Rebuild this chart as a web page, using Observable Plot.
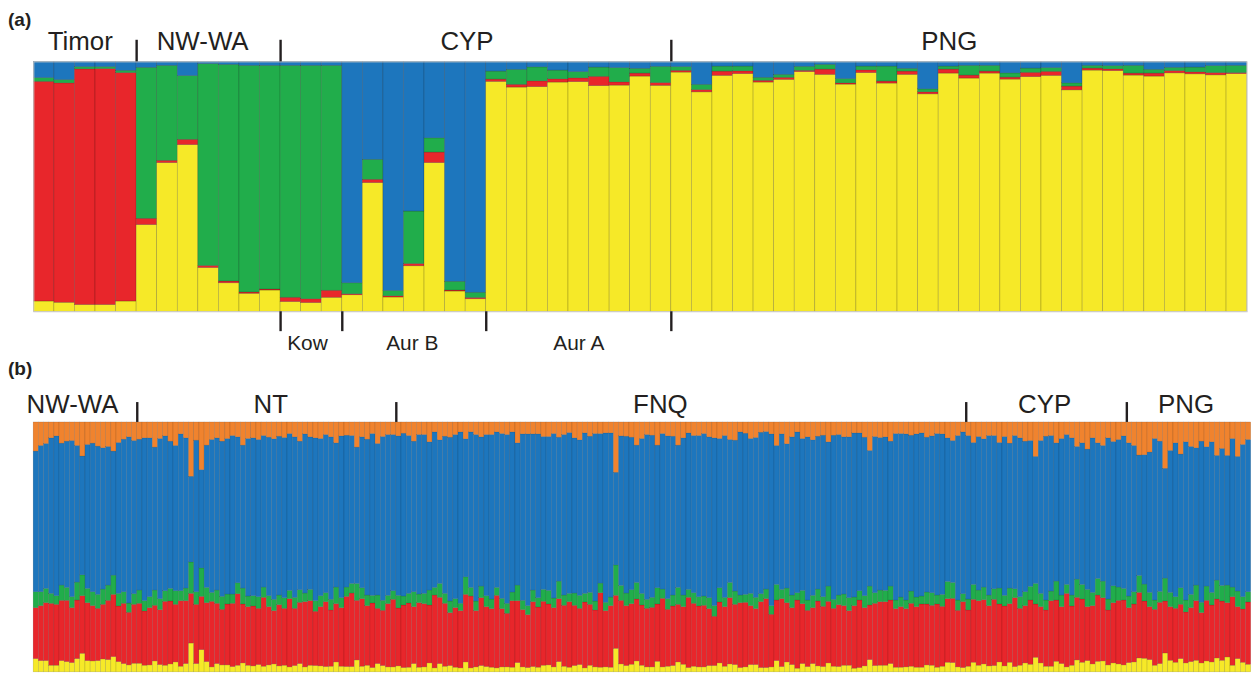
<!DOCTYPE html>
<html><head><meta charset="utf-8">
<script src="https://cdn.jsdelivr.net/npm/d3@7"></script>
<script src="https://cdn.jsdelivr.net/npm/@observablehq/plot@0.6"></script>
<style>
html,body{margin:0;padding:0;background:#fff;overflow:hidden;width:1253px;height:674px}
#wrap{position:relative;width:1253px;height:674px;overflow:hidden;font-family:"Liberation Sans",Arial,Helvetica,sans-serif;color:#231f20}
.plab{position:absolute;left:8px;font-weight:bold;font-size:19px;line-height:1}
#pa{position:absolute;left:0;top:0}
#pb{position:absolute;left:0;top:360px}
svg{display:block;overflow:visible}
</style></head><body>
<div id="wrap">
<div class="plab" style="top:10px">(a)</div>
<div class="plab" style="top:359px">(b)</div>
<div id="pa"></div><div id="pb"></div>
</div>
<script>
// ---------------- DATA: panel (a) ----------------
const popsA = ["Timor","NW-WA","Kow","Aur B","Aur A","PNG"];
const popSizesA = [5,7,3,7,9,28];
const regionOfPopA = ["Timor","NW-WA","CYP","CYP","CYP","PNG"];
const subLabelRegionA = "CYP";
const clustersA = ["Cluster Y","Cluster R","Cluster G","Cluster B"];
const yellowA = [0.041,0.036,0.027,0.027,0.041,0.347,0.595,0.667,0.175,0.114,0.072,0.085,0.039,0.035,0.056,0.066,0.515,0.057,0.182,0.595,0.081,0.050,0.920,0.898,0.899,0.918,0.919,0.903,0.904,0.942,0.904,0.957,0.878,0.944,0.952,0.918,0.928,0.959,0.948,0.908,0.956,0.914,0.948,0.870,0.954,0.934,0.954,0.928,0.939,0.944,0.886,0.965,0.963,0.946,0.942,0.954,0.951,0.946,0.951];
const redA = [0.879,0.878,0.943,0.944,0.914,0.025,0.009,0.021,0.008,0.007,0.005,0.004,0.017,0.015,0.028,0.004,0.013,0.005,0.009,0.042,0.004,0.005,0.009,0.011,0.023,0.013,0.015,0.037,0.013,0.012,0.011,0.007,0.009,0.017,0.011,0.007,0.008,0.005,0.021,0.005,0.011,0.008,0.013,0.008,0.016,0.012,0.008,0.008,0.017,0.016,0.015,0.008,0.007,0.008,0.012,0.009,0.008,0.009,0.004];
const greenA = [0.015,0.013,0.009,0.008,0.009,0.604,0.380,0.255,0.807,0.867,0.907,0.895,0.928,0.934,0.900,0.044,0.080,0.021,0.210,0.057,0.035,0.021,0.032,0.060,0.056,0.035,0.025,0.037,0.057,0.019,0.065,0.015,0.021,0.020,0.019,0.012,0.012,0.016,0.019,0.017,0.015,0.060,0.011,0.012,0.012,0.039,0.023,0.017,0.017,0.015,0.013,0.011,0.013,0.031,0.015,0.013,0.019,0.028,0.029];
const blueA = [0.065,0.073,0.021,0.021,0.036,0.024,0.016,0.057,0.009,0.012,0.016,0.016,0.016,0.016,0.016,0.886,0.392,0.917,0.599,0.306,0.880,0.924,0.039,0.032,0.022,0.035,0.041,0.023,0.025,0.028,0.020,0.021,0.092,0.019,0.019,0.064,0.052,0.020,0.012,0.069,0.019,0.019,0.028,0.110,0.019,0.016,0.016,0.046,0.027,0.025,0.086,0.016,0.017,0.016,0.032,0.024,0.023,0.017,0.016];

// ---------------- DATA: panel (b) (relative shares) ----------------
const regionsB = ["NW-WA","NT","FNQ","CYP","PNG"];
const regionSizesB = [20,50,110,31,24];
const clustersB = ["Cluster Y","Cluster R","Cluster G","Cluster B","Cluster O"];
const orangeB = [88,71,65,48,42,64,58,56,71,103,68,64,73,78,74,88,62,52,45,56,
52,48,48,76,50,42,58,71,36,48,164,55,144,70,53,48,58,50,41,
45,70,50,48,53,41,46,51,43,47,35,45,58,36,45,48,50,38,45,63,42,40,41,76,45,52,35,65,44,38,38,42,34,41,58,38,38,60,30,
54,43,46,38,30,51,30,38,45,38,38,30,35,38,30,63,36,36,36,36,44,44,35,46,38,32,48,54,33,43,35,35,33,33,152,42,43,46,70,
50,38,40,70,35,42,43,70,48,33,41,41,35,45,48,50,41,53,55,30,34,50,47,31,29,36,71,36,66,45,30,50,45,54,43,40,60,40,38,
45,45,33,33,46,86,44,47,45,58,35,35,36,40,36,33,46,42,35,36,48,56,41,30,41,62,44,51,41,41,62,44,64,41,48,58,56,104,56,
43,41,63,50,38,48,74,63,82,48,63,71,48,59,53,42,63,71,100,99,91,50,58,140,86,63,97,60,74,78,58,75,60,101,80,101,50,104,68,53];
const blueB = [425,442,438,470,483,429,442,472,413,359,435,449,448,427,419,375,456,461,502,463,
456,492,480,432,484,468,445,439,474,454,259,458,297,430,462,460,469,470,479,
441,432,476,477,475,458,479,485,480,484,474,485,449,481,461,492,475,478,491,436,489,459,447,412,456,471,489,458,495,486,472,482,492,477,455,482,480,448,470,
434,475,495,496,518,417,470,503,451,487,497,470,498,510,484,430,503,519,472,495,462,465,497,435,485,486,469,470,485,472,506,452,512,496,280,452,474,461,415,
468,498,490,431,470,492,480,430,475,473,475,487,491,486,507,451,489,432,456,493,487,468,483,488,476,519,420,470,436,478,486,459,493,470,462,488,436,496,485,
475,486,496,477,479,410,472,461,464,438,503,494,502,471,493,493,468,474,488,485,434,429,497,489,494,429,464,448,482,463,440,480,438,463,480,455,441,384,462,
495,470,418,473,453,475,401,428,424,467,410,410,487,436,446,461,463,442,364,391,424,488,454,332,429,465,404,478,447,415,487,421,455,377,414,392,449,407,460,460];
const greenB = [48,42,43,30,26,46,39,33,54,63,43,42,42,46,46,58,38,35,28,32,
40,31,33,46,33,32,38,41,30,38,95,38,86,46,27,40,39,30,28,
33,48,32,31,35,31,33,34,29,32,25,33,38,26,34,32,33,27,32,50,30,28,29,51,33,32,23,40,30,25,26,38,27,29,45,26,31,45,23,
42,30,35,27,22,53,26,29,35,33,29,24,31,30,26,47,28,27,35,28,36,41,29,53,31,25,37,39,26,36,27,29,25,26,92,45,38,42,50,
35,27,30,49,28,32,33,51,35,24,32,28,28,33,32,43,28,46,40,23,24,37,34,24,29,26,47,28,44,38,22,40,31,37,36,29,46,27,29,
35,39,26,28,36,57,32,35,34,42,26,29,26,37,29,24,36,38,27,36,52,48,31,24,33,45,32,38,32,32,48,32,47,27,35,42,41,62,40,
30,29,57,35,27,33,55,44,52,40,50,50,33,51,40,35,35,37,51,51,43,28,33,69,43,35,50,36,40,47,31,43,38,57,47,53,29,47,37,31];
const redB = [154,166,175,187,184,182,185,166,177,174,175,167,158,165,179,188,168,182,159,178,
181,164,173,168,166,193,190,174,198,190,150,179,161,178,198,182,168,184,191,
216,178,177,181,170,208,176,161,185,172,206,173,185,197,195,164,179,196,170,176,177,212,222,180,204,180,195,167,167,191,204,175,189,194,172,195,191,175,220,
200,190,160,180,173,204,217,170,205,181,177,219,176,162,201,187,173,160,196,182,193,184,179,190,184,198,182,170,199,184,172,225,170,186,160,192,181,183,187,
182,177,180,173,207,172,180,174,174,212,190,184,186,172,149,184,180,200,182,196,195,178,169,199,208,159,183,205,179,172,206,181,170,169,196,182,186,175,187,
180,165,189,204,176,165,188,192,192,192,177,183,176,190,183,191,184,181,191,181,192,194,171,199,170,190,195,194,182,200,175,181,177,208,172,173,194,161,170,
170,198,185,172,222,179,189,191,163,176,200,191,166,182,192,196,166,175,198,173,160,169,185,157,162,163,164,154,163,180,152,183,172,178,179,164,207,157,161,188];
const yellowB = [40,34,34,20,20,34,31,28,40,56,34,33,34,39,37,46,31,25,21,26,
26,20,21,33,22,20,24,30,17,25,87,25,67,31,15,25,21,21,16,
20,27,20,18,22,17,21,24,18,20,15,19,25,15,20,19,18,16,17,30,17,16,16,36,17,20,13,25,19,15,15,18,13,14,25,14,15,27,12,
25,17,19,14,12,30,12,15,19,16,14,12,15,15,14,28,15,13,16,14,20,21,15,31,17,14,19,22,12,20,15,14,15,14,71,24,19,23,33,
20,15,15,32,15,17,19,30,23,13,17,15,15,19,19,27,17,24,22,13,15,22,22,13,13,15,34,16,30,22,11,25,16,25,18,16,27,17,16,
20,20,11,13,18,37,19,20,20,25,14,14,15,17,14,14,21,20,14,17,29,28,15,13,17,29,20,24,18,19,30,18,29,16,20,27,23,44,27,
17,17,32,25,15,20,36,29,34,24,32,33,21,27,24,21,28,30,42,41,37,20,25,57,35,29,40,27,31,35,27,33,30,42,35,45,20,40,29,23];

// ---------------- STYLE ----------------
const clusterColors = {"Cluster Y":"#f6e928", "Cluster R":"#e8262b", "Cluster G":"#21ad4b", "Cluster B":"#1d76bd", "Cluster O":"#f0832e"};
const FONT = "'Liberation Sans', Arial, Helvetica, sans-serif";
const INK = "#231f20";
const W = 1260;
const A = {top:61.7, plotH:251.3, left:33.5, right:1253.6, svgH:360, tickLen:21.7, labelDy:-11.7, subTickLen:20, subLabelDy:38.7};
const B = {top:62.3, plotH:251.3, left:33.3, right:1257.7, svgH:324, tickLen:20, labelDy:-9.3};
const nudgeTopA = {"Timor":-5,"NW-WA":-6,"CYP":-9,"PNG":-10};
const nudgeSubA = {"Kow":-4,"Aur B":-2,"Aur A":0};
const nudgeB = {"NW-WA":-13,"NT":4,"FNQ":-21,"CYP":-2,"PNG":-3};

// ---------------- helpers ----------------
function stackRows(series, names) {
  const n = series[0].length, rows = [];
  for (let i = 0; i < n; i++) {
    const tot = d3.sum(series, s => s[i]);
    let acc = 0;
    series.forEach((s, k) => {
      const v = s[i] / tot;
      rows.push({i, k: names[k], y1: acc, y2: acc + v});
      acc += v;
    });
  }
  return rows;
}
function spans(names, sizes) {
  const out = []; let s = 0;
  names.forEach((nm, j) => { out.push({name: nm, start: s, end: s + sizes[j]}); s += sizes[j]; });
  return out;
}
function mergeSpans(sp, keyOf) {
  const out = [];
  sp.forEach((d, j) => {
    const key = keyOf[j];
    const last = out[out.length - 1];
    if (last && last.name === key) last.end = d.end; else out.push({name: key, start: d.start, end: d.end});
  });
  return out;
}
function labelMarks(list, nudge, frameAnchor, dy, size) {
  return list.map(d => Plot.text([d], {
    x: e => (e.start + e.end) / 2, text: "name", frameAnchor, dy, dx: nudge[d.name] || 0,
    lineAnchor: "bottom", textAnchor: "middle", fontSize: size, fill: INK, fontFamily: FONT
  }));
}
const colorScale = {type: "ordinal", domain: Object.keys(clusterColors), range: Object.values(clusterColors)};

// ---------------- panel (a) ----------------
const nA = yellowA.length;
const rowsA = stackRows([yellowA, redA, greenA, blueA], clustersA);
const popSpansA = spans(popsA, popSizesA);
const regionSpansA = mergeSpans(popSpansA, regionOfPopA);
const topTicksA = regionSpansA.slice(1).map(d => d.start);
const subSpansA = popSpansA.filter((d, j) => regionOfPopA[j] === subLabelRegionA);
const subTicksA = Array.from(new Set(subSpansA.flatMap(d => [d.start, d.end])));

const plotA = Plot.plot({
  width: W, height: A.svgH,
  marginTop: A.top, marginBottom: A.svgH - A.top - A.plotH,
  marginLeft: A.left, marginRight: W - A.right,
  x: {domain: [0, nA], axis: null},
  y: {domain: [0, 1], axis: null},
  color: colorScale,
  style: {fontFamily: FONT, background: "transparent"},
  marks: [
    Plot.rect(rowsA, {x1: "i", x2: d => d.i + 1, y1: "y1", y2: "y2", fill: "k",
      stroke: "#000", strokeOpacity: 0.28, strokeWidth: 0.6}),
    Plot.frame({stroke: "#c9c9c9", strokeWidth: 1}),
    Plot.ruleX(topTicksA, {x: d => d, insetTop: -A.tickLen, insetBottom: A.plotH, stroke: INK, strokeWidth: 2.4}),
    Plot.ruleX(subTicksA, {x: d => d, insetTop: A.plotH, insetBottom: -A.subTickLen, stroke: INK, strokeWidth: 2.4}),
    ...labelMarks(regionSpansA, nudgeTopA, "top", A.labelDy, 26),
    ...labelMarks(subSpansA, nudgeSubA, "bottom", A.subLabelDy, 21)
  ]
});
document.getElementById("pa").appendChild(plotA);

// ---------------- panel (b) ----------------
const nB = yellowB.length;
const rowsB = stackRows([yellowB, redB, greenB, blueB, orangeB], clustersB);
const regionSpansB = spans(regionsB, regionSizesB);
const ticksB = regionSpansB.slice(1).map(d => d.start);

const plotB = Plot.plot({
  width: W, height: B.svgH,
  marginTop: B.top, marginBottom: B.svgH - B.top - B.plotH,
  marginLeft: B.left, marginRight: W - B.right,
  x: {domain: [0, nB], axis: null},
  y: {domain: [0, 1], axis: null},
  color: colorScale,
  style: {fontFamily: FONT, background: "transparent"},
  marks: [
    Plot.rect(rowsB, {x1: "i", x2: d => d.i + 1, y1: "y1", y2: "y2", fill: "k",
      stroke: "#000", strokeOpacity: 0.22, strokeWidth: 0.5}),
    Plot.ruleX(ticksB, {x: d => d, insetTop: -B.tickLen, insetBottom: B.plotH, stroke: INK, strokeWidth: 2.4}),
    ...labelMarks(regionSpansB, nudgeB, "top", B.labelDy, 26)
  ]
});
document.getElementById("pb").appendChild(plotB);
</script>
</body></html>
